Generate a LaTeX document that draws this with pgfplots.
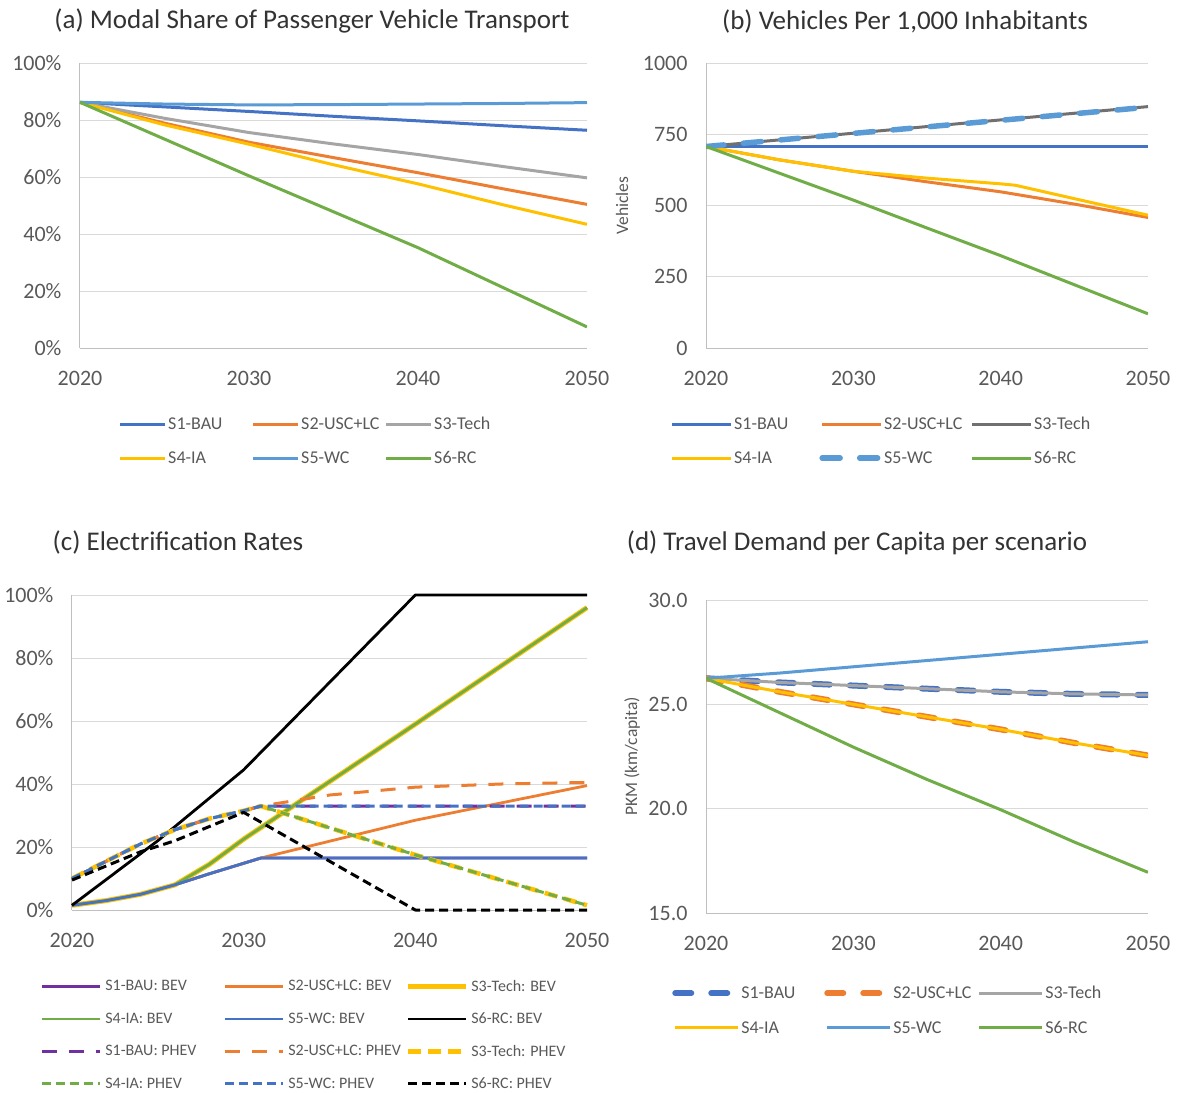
\documentclass[border=0pt]{standalone}
\usepackage{fontspec}
\setmainfont{Carlito}
\usepackage{pgfplots}
\pgfplotsset{compat=1.18}
\definecolor{cBlue}{HTML}{4472C4}
\definecolor{cOrange}{HTML}{ED7D31}
\definecolor{cGray}{HTML}{A5A5A5}
\definecolor{cDGray}{HTML}{707070}
\definecolor{cYellow}{HTML}{FFC000}
\definecolor{cLBlue}{HTML}{5B9BD5}
\definecolor{cGreen}{HTML}{70AD47}
\definecolor{cPurple}{HTML}{7030A0}
\definecolor{cGrid}{HTML}{D9D9D9}
\definecolor{cAxis}{HTML}{BFBFBF}
\definecolor{cText}{HTML}{595959}
\definecolor{cTitle}{HTML}{333333}
\pgfplotsset{
  panel/.style={
    scale only axis, xmin=2020, xmax=2050,
    xtick={2020,2030,2040,2050}, xticklabels={2020,2030,2040,2050},
    axis x line*=bottom, axis y line*=left,
    axis line style={cAxis, line width=1pt},
    major tick length=0pt,
    ymajorgrids, grid style={cGrid, line width=0.9pt},
    tick label style={font=\fontsize{22}{26}\selectfont, text=cText},
    xticklabel style={yshift=-20pt},
    yticklabel style={xshift=-15pt},
    ylabel style={font=\fontsize{17.5}{20}\selectfont, text=cText},
    legend cell align=left,
    every axis plot/.append style={line join=round},
  },
  leg/.style n args={4}{% image width, gap, row sep, font size
    legend style={draw=none, fill=none, inner sep=0pt, legend columns=3,
      font=\fontsize{#4}{#4}\selectfont, text=cText,
      nodes={inner sep=0pt}, row sep=#3,
      /tikz/every odd column/.append style={column sep=#2}},
    legend image code/.code={\path[draw=none,fill=none] (0pt,-1pt) rectangle (#1,1pt);
      \draw[##1,overlay] (0pt,0pt) -- (#1,0pt);},
  },
}
\newcommand{\lb}[2]{\makebox[#1][l]{#2}}
\begin{document}
\begin{tikzpicture}[x=1pt,y=1pt]
\useasboundingbox (0,0) rectangle (1179,-1093);
\node[font=\fontsize{27}{31}\selectfont, text=cTitle] at (312,-21) {(a) Modal Share of Passenger Vehicle Transport};
\node[font=\fontsize{27}{31}\selectfont, text=cTitle] at (905,-21) {(b) Vehicles Per 1,000 Inhabitants};
\node[font=\fontsize{27}{31}\selectfont, text=cTitle] at (178,-542) {(c) Electrification Rates};
\node[font=\fontsize{27}{31}\selectfont, text=cTitle] at (857,-543) {(d) Travel Demand per Capita per scenario};

% ---------------- (a)
\begin{axis}[panel, at={(80pt,-63pt)}, anchor=north west, width=507pt, height=285pt,
  ymin=0, ymax=100, ytick={0,20,40,60,80,100},
  yticklabels={0\%,20\%,40\%,60\%,80\%,100\%},
  leg={45pt}{3pt}{20pt}{18},
  legend style={at={(axis description cs:0.079,-0.242)}, anchor=north west}]
\addplot[cBlue, line width=3pt] coordinates {(2020,86.2)(2025,84.6)(2030,83.0)(2035,81.3)(2040,79.7)(2045,78.0)(2050,76.4)};
\addlegendentry{\lb{85pt}{S1-BAU}}
\addplot[cOrange, line width=3pt] coordinates {(2020,86.2)(2025,78.9)(2030,72.2)(2035,66.8)(2040,61.5)(2045,55.9)(2050,50.4)};
\addlegendentry{\lb{85pt}{S2-USC+LC}}
\addplot[cGray, line width=3pt] coordinates {(2020,86.2)(2025,80.6)(2030,75.6)(2035,71.6)(2040,67.9)(2045,63.7)(2050,59.7)};
\addlegendentry{\lb{85pt}{S3-Tech}}
\addplot[cYellow, line width=3pt] coordinates {(2020,86.2)(2025,78.3)(2030,71.5)(2035,64.3)(2040,57.6)(2045,50.3)(2050,43.4)};
\addlegendentry{\lb{85pt}{S4-IA}}
\addplot[cLBlue, line width=3pt] coordinates {(2020,86.2)(2025,85.6)(2030,85.3)(2035,85.4)(2040,85.6)(2045,85.8)(2050,86.1)};
\addlegendentry{\lb{85pt}{S5-WC}}
\addplot[cGreen, line width=3pt] coordinates {(2020,86.2)(2025,73.3)(2030,60.4)(2035,47.8)(2040,35.2)(2045,21.3)(2050,7.4)};
\addlegendentry{\lb{85pt}{S6-RC}}
\end{axis}

% ---------------- (b)
\begin{axis}[panel, at={(706pt,-63pt)}, anchor=north west, width=442pt, height=285pt,
  ymin=0, ymax=1000, ytick={0,250,500,750,1000},
  yticklabels={0,250,500,750,1000},
  ylabel={Vehicles}, ylabel style={at={(axis description cs:-0.19,0.5)}, anchor=center},
  leg={59pt}{3pt}{20pt}{18},
  legend style={at={(axis description cs:-0.077,-0.242)}, anchor=north west}]
\addplot[cBlue, line width=3pt] coordinates {(2020,707)(2050,707)};
\addlegendentry{\lb{88pt}{S1-BAU}}
\addplot[cOrange, line width=3pt] coordinates {(2020,707)(2025,660)(2030,620)(2035,583)(2040,548)(2045,505)(2050,458)};
\addlegendentry{\lb{88pt}{S2-USC+LC}}
\addplot[cDGray, line width=3pt] coordinates {(2020,707)(2050,847)};
\addlegendentry{\lb{88pt}{S3-Tech}}
\addplot[cYellow, line width=3pt] coordinates {(2020,707)(2025,660)(2030,620)(2035,596)(2040,576)(2041,571)(2045,524)(2050,466)};
\addlegendentry{\lb{88pt}{S4-IA}}
\addplot[cLBlue, line width=5.5pt, line cap=round, dash pattern=on 18pt off 19.5pt] coordinates {(2020,707)(2050,845)};
\addlegendentry{\lb{88pt}{S5-WC}}
\addplot[cGreen, line width=3pt] coordinates {(2020,707)(2025,613)(2030,519)(2035,421)(2040,324)(2045,222)(2050,120)};
\addlegendentry{\lb{88pt}{S6-RC}}
\end{axis}

% ---------------- (c)
\begin{axis}[panel, at={(72pt,-595pt)}, anchor=north west, width=515pt, height=315pt,
  ymin=0, ymax=100, ytick={0,20,40,60,80,100},
  yticklabels={0\%,20\%,40\%,60\%,80\%,100\%}, clip=false,
  leg={58pt}{5pt}{20pt}{16},
  legend style={at={(axis description cs:-0.058,-0.222)}, anchor=north west}]
\addplot[cPurple, line width=2.8pt] coordinates {(2020,1.5)(2022,3.0)(2024,5.0)(2026,8.0)(2028,11.5)(2031,16.5)(2050,16.5)};
\addlegendentry{\lb{120pt}{S1-BAU: BEV}}
\addplot[cOrange, line width=2.8pt] coordinates {(2020,1.5)(2022,3.0)(2024,5.0)(2026,8.0)(2028,11.5)(2031,16.5)(2040,28.5)(2050,39.5)};
\addlegendentry{\lb{120pt}{S2-USC+LC: BEV}}
\addplot[cYellow, line width=5pt] coordinates {(2020,1.5)(2022,3.0)(2024,5.0)(2026,8.0)(2028,14.5)(2030,22.5)(2040,59)(2050,96)};
\addlegendentry{\lb{120pt}{S3-Tech: BEV}}
\addplot[cGreen, line width=2.8pt] coordinates {(2020,1.5)(2022,3.0)(2024,5.0)(2026,8.0)(2028,14.5)(2030,22.5)(2040,59)(2050,96)};
\addlegendentry{\lb{120pt}{S4-IA: BEV}}
\addplot[cBlue, line width=2.8pt] coordinates {(2020,1.5)(2022,3.0)(2024,5.0)(2026,8.0)(2028,11.5)(2031,16.5)(2050,16.5)};
\addlegendentry{\lb{120pt}{S5-WC: BEV}}
\addplot[black, line width=2.8pt] coordinates {(2020,1.5)(2025,22)(2030,44.5)(2040,100)(2050,100)};
\addlegendentry{\lb{120pt}{S6-RC: BEV}}
\addplot[cPurple, line width=3pt, dash pattern=on 15pt off 12pt] coordinates {(2020,10)(2022,15.5)(2024,21)(2026,25.5)(2028,29)(2030,31.5)(2031,33)(2050,33)};
\addlegendentry{\lb{120pt}{S1-BAU: PHEV}}
\addplot[cOrange, line width=3pt, dash pattern=on 15pt off 12pt] coordinates {(2020,10)(2022,15.5)(2024,21)(2026,25.5)(2028,29)(2030,31.5)(2031,33)(2035,36.5)(2040,39)(2045,40)(2050,40.5)};
\addlegendentry{\lb{120pt}{S2-USC+LC: PHEV}}
\addplot[cYellow, line width=4.5pt, dash pattern=on 13pt off 7pt] coordinates {(2020,10)(2022,15.5)(2024,21)(2026,25.5)(2028,29)(2030,31.5)(2031,33)(2040,17.5)(2050,1.5)};
\addlegendentry{\lb{120pt}{S3-Tech: PHEV}}
\addplot[cGreen, line width=3pt, dash pattern=on 9pt off 5pt] coordinates {(2020,10)(2022,15.5)(2024,21)(2026,25.5)(2028,29)(2030,31.5)(2031,33)(2040,17.5)(2050,1.5)};
\addlegendentry{\lb{120pt}{S4-IA: PHEV}}
\addplot[cBlue, line width=3pt, dash pattern=on 9pt off 5pt] coordinates {(2020,10)(2022,15.5)(2024,21)(2026,25.5)(2028,29)(2030,31.5)(2031,33)(2050,33)};
\addlegendentry{\lb{120pt}{S5-WC: PHEV}}
\addplot[black, line width=3pt, dash pattern=on 9pt off 5pt] coordinates {(2020,9.5)(2022,14)(2024,18.5)(2026,22)(2028,26.5)(2030,31)(2040,0)(2050,0)};
\addlegendentry{\lb{120pt}{S6-RC: PHEV}}
\end{axis}

% ---------------- (d)
\begin{axis}[panel, at={(706pt,-600pt)}, anchor=north west, width=442pt, height=313pt,
  ymin=15, ymax=30, ytick={15,20,25,30},
  yticklabels={15.0,20.0,25.0,30.0},
  ylabel={PKM (km/capita)}, ylabel style={at={(axis description cs:-0.167,0.5)}, anchor=center},
  leg={63pt}{3pt}{21pt}{18},
  legend style={at={(axis description cs:-0.070,-0.233)}, anchor=north west}]
\addplot[cBlue, line width=6pt, line cap=round, dash pattern=on 16pt off 20pt] coordinates {(2020,26.25)(2025,26.05)(2030,25.9)(2035,25.75)(2040,25.6)(2045,25.5)(2050,25.45)};
\addlegendentry{\lb{86pt}{S1-BAU}}
\addplot[cOrange, line width=6pt, line cap=round, dash pattern=on 16pt off 20pt] coordinates {(2020,26.25)(2025,25.6)(2030,25.0)(2035,24.4)(2040,23.8)(2045,23.15)(2050,22.55)};
\addlegendentry{\lb{86pt}{S2-USC+LC}}
\addplot[cGray, line width=3pt] coordinates {(2020,26.25)(2025,26.05)(2030,25.9)(2035,25.75)(2040,25.6)(2045,25.5)(2050,25.45)};
\addlegendentry{\lb{86pt}{S3-Tech}}
\addplot[cYellow, line width=3pt] coordinates {(2020,26.25)(2025,25.6)(2030,25.0)(2035,24.4)(2040,23.8)(2045,23.15)(2050,22.55)};
\addlegendentry{\lb{86pt}{S4-IA}}
\addplot[cLBlue, line width=3pt] coordinates {(2020,26.25)(2025,26.5)(2030,26.8)(2035,27.1)(2040,27.4)(2045,27.7)(2050,28.0)};
\addlegendentry{\lb{86pt}{S5-WC}}
\addplot[cGreen, line width=3pt] coordinates {(2020,26.25)(2025,24.6)(2030,22.95)(2035,21.4)(2040,19.95)(2045,18.4)(2050,16.95)};
\addlegendentry{\lb{86pt}{S6-RC}}
\end{axis}
\end{tikzpicture}
\end{document}
